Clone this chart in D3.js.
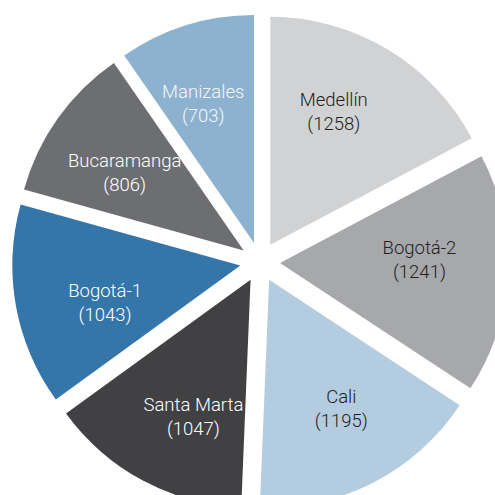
<!DOCTYPE html>
<html>
<head>
<meta charset="utf-8">
<script src="https://cdn.jsdelivr.net/npm/d3@7"></script>
<style>
  body { margin: 0; background: #fff; }
  svg { display: block; }
</style>
</head>
<body>
<div id="chart"></div>
<script>
// data, clockwise from 12 o'clock
const cities = ["Medellín", "Bogotá-2", "Cali", "Santa Marta", "Bogotá-1", "Bucaramanga", "Manizales"]
const counts = [1258, 1241, 1195, 1047, 1043, 806, 703]
const sliceColors = ["#d1d2d4", "#a7a8ab", "#b3cce0", "#414042", "#3475aa", "#6d6e71", "#8db2cf"]
const labelColors = ["#231f20", "#231f20", "#231f20", "#ffffff", "#ffffff", "#ffffff", "#f2f6fa"]

const width = 495, height = 495
const cx = 260, cy = 262
const radius = 228, explode = 20, labelR = 150
const labelSquash = 0.93            // labels sit a bit closer horizontally
const labelTurn = -4 * Math.PI / 180 // and a little anticlockwise of the bisector

const svg = d3.select("#chart").append("svg")
  .attr("width", width)
  .attr("height", height)

const pie = d3.pie().sort(null).value(d => d.count)
const arc = d3.arc().innerRadius(0).outerRadius(radius)
const midArc = d3.arc().innerRadius(explode).outerRadius(explode)

const data = cities.map((c, i) => ({ city: c, count: counts[i], i: i }))
const arcs = pie(data)

const g = svg.append("g").attr("transform", `translate(${cx},${cy})`)

// exploded slices
g.append("g").selectAll("path")
  .data(arcs)
  .join("path")
    .attr("transform", d => `translate(${midArc.centroid(d)})`)
    .attr("d", arc)
    .attr("fill", d => sliceColors[d.data.i])

// labels on top: name and count in brackets
const label = g.append("g").selectAll("text")
  .data(arcs)
  .join("text")
    .attr("transform", d => {
      const [ex, ey] = midArc.centroid(d)
      const a = (d.startAngle + d.endAngle) / 2 + labelTurn
      const x = Math.sin(a) * labelR * labelSquash
      const y = -Math.cos(a) * labelR
      return `translate(${ex + x},${ey + y})`
    })
    .attr("text-anchor", "middle")
    .attr("font-family", "Roboto, 'Liberation Sans', Arial, sans-serif")
    .attr("font-weight", 300)
    .attr("font-size", 18.5)
    .attr("fill", d => labelColors[d.data.i])

label.append("tspan")
  .attr("x", 0)
  .attr("y", -5.5)
  .text(d => d.data.city)

label.append("tspan")
  .attr("x", 0)
  .attr("y", 18.5)
  .text(d => `(${d.data.count})`)
</script>
</body>
</html>
